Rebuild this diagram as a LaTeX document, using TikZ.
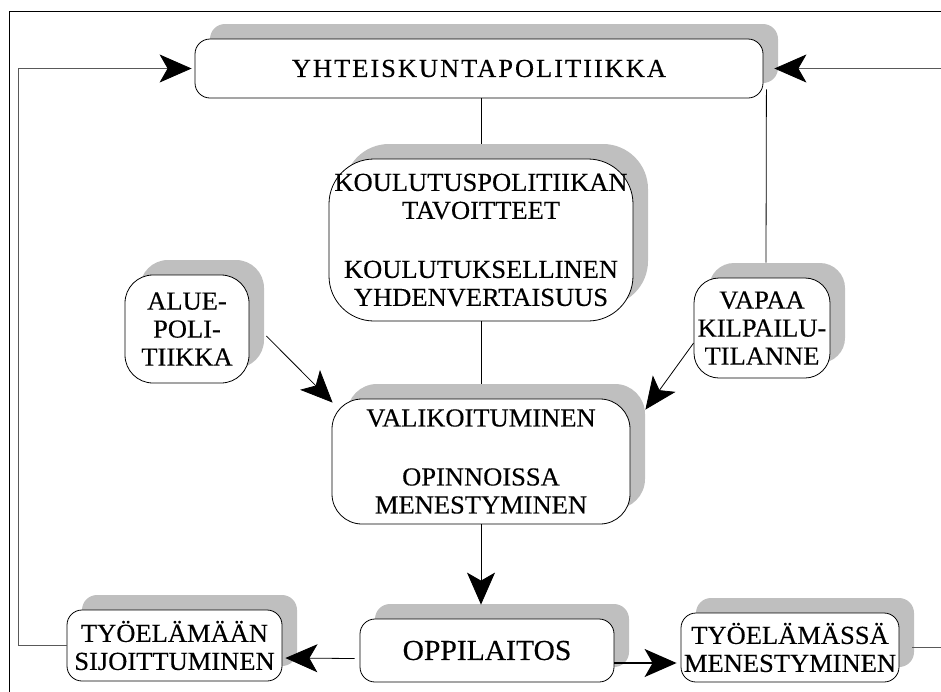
\documentclass[tikz,border=0pt]{standalone}
\usepackage{fontspec}
\setmainfont[FakeStretch=1.02,FakeBold=0.3]{Liberation Serif}
\usetikzlibrary{arrows.meta,shadows,calc}

\begin{document}
\begin{tikzpicture}[x=1pt,y=-1pt,
  box/.style={draw=black, line width=0.8pt, fill=white, rounded corners=#1,
    inner sep=0pt, align=center, font=\fontsize{26}{28}\selectfont,
    drop shadow={shadow xshift=15pt, shadow yshift=15pt, fill=gray!50, opacity=1}},
  box/.default=15pt,
  tip/.style={-{Stealth[length=32pt,width=28pt,inset=8pt,color=black]}},
  link/.style={line width=0.8pt, black},
  loopline/.style={line width=0.8pt, black!65},
]
\useasboundingbox (0,0) rectangle (941,691);
\clip (0,0) rectangle (941,691);

% outer frame
\draw[line width=0.8pt] (9,11) rectangle (980,720);

% nodes
\node[box=15pt, minimum width=568pt, minimum height=59pt] (yht) at (479,68.5)
  {\addfontfeature{LetterSpace=7.5}YHTEISKUNTAPOLITIIKKA};
\node[box=45pt, minimum width=304pt, minimum height=162pt] (kou) at (481,240)
  {KOULUTUSPOLITIIKAN\\TAVOITTEET\\[31pt]KOULUTUKSELLINEN\\YHDENVERTAISUUS};
\node[box=28pt, minimum width=124pt, minimum height=108pt] (alue) at (187,329)
  {ALUE-\\POLI-\\TIIKKA};
\node[box=25pt, minimum width=136pt, minimum height=100pt] (vapaa) at (762,328)
  {VAPAA\\KILPAILU-\\TILANNE};
\node[box=30pt, minimum width=298pt, minimum height=125pt] (vali) at (481,461.5)
  {VALIKOITUMINEN\\[31pt]OPINNOISSA\\MENESTYMINEN};
\node[box=15pt, minimum width=254pt, minimum height=63pt,
      font=\fontsize{29}{32}\selectfont] (oppi) at (487,650.5)
  {OPPILAITOS};
\node[box=15pt, minimum width=215pt, minimum height=71pt] (tyoa) at (174.5,645.5)
  {TYÖELÄMÄÄN\\SIJOITTUMINEN};
\node[box=15pt, minimum width=218pt, minimum height=69pt] (tyob) at (790,647.5)
  {TYÖELÄMÄSSÄ\\MENESTYMINEN};

% helper coordinates for the outer feedback loops
\coordinate (lx) at (18,0);
\coordinate (rx) at (955,0);

% plain links from the top box
\draw[link] (kou.north |- yht.south) -- ($(kou.north)+(0,-15)$);
\draw[link] (kou.south) -- ($(kou.south |- vali.north)+(0,-15)$);
\draw[link] ($(alue.north)+(15,-15)$ |- yht.south) -- ($(alue.north)+(15,-15)$);
\coordinate (vtop) at ($(vapaa.north)+(4,-15)$);
\draw[link] ($(yht.south east)+(3,-9)$) -- (vtop);

% arrows into the selection box
\draw[link,tip] ($(alue.east)+(17,7)$) -- ($(vali.north west)+(1,4)$);
\draw[link,tip] ($(vapaa.west)+(0,15)$) -- ($(vali.north east)+(15,11)$);
\draw[link,tip] (vali.south) -- ($(vali.south |- oppi.north)+(0,-14)$);

% arrows out of the school
\draw[link,tip] ($(oppi.west)+(-5,8)$) -- ($(tyoa.east)+(3,12.5)$);
\draw[line width=1.6pt,tip] ($(oppi.east)+(0,12.5)$) -- ($(tyob.west)+(-4,15.5)$);

% feedback loops back to social policy
\draw[loopline,tip] (tyoa.west) -- (tyoa.west -| lx) -- (yht.west -| lx) -- ($(yht.west)+(-3,0)$);
\draw[loopline,tip] ($(tyob.east)+(13,0)$) -- (tyob.east -| rx) -- (yht.east -| rx) -- ($(yht.east)+(11,0)$);
\end{tikzpicture}
\end{document}
